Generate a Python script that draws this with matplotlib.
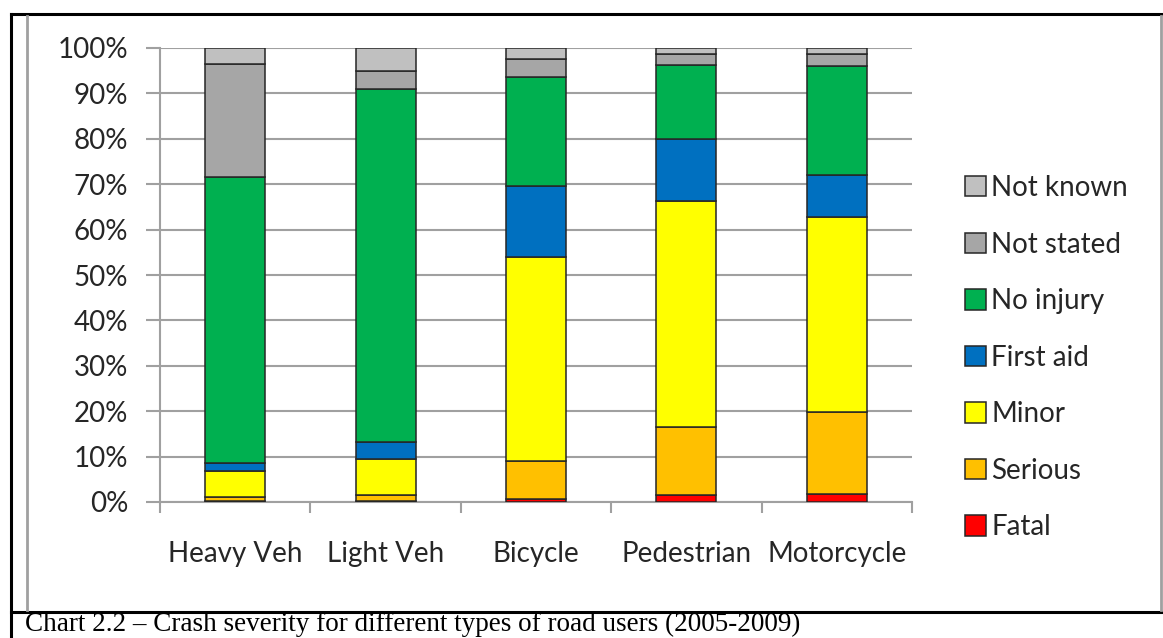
import numpy as np
import matplotlib.pyplot as plt
from matplotlib.patches import Patch
from matplotlib.lines import Line2D

categories = ["Heavy Veh", "Light Veh", "Bicycle", "Pedestrian", "Motorcycle"]
severity = ["Fatal", "Serious", "Minor", "First aid", "No injury", "Not stated", "Not known"]

# share of crashes (%) for each severity, per road user type
fatal      = [0.2, 0.3, 0.7, 1.5, 1.7]
serious    = [0.9, 1.2, 8.4, 15.0, 18.2]
minor      = [5.7, 7.9, 44.9, 49.9, 42.9]
first_aid  = [1.7, 3.8, 15.5, 13.5, 9.3]
no_injury  = [63.0, 77.7, 24.1, 16.4, 23.9]
not_stated = [24.9, 4.0, 4.0, 2.3, 2.6]
not_known  = [3.6, 5.1, 2.4, 1.4, 1.4]

series = [fatal, serious, minor, first_aid, no_injury, not_stated, not_known]
colors = ["#FF0000", "#FFC000", "#FFFF00", "#0070C0", "#00B050", "#A6A6A6", "#C0C0C0"]

W, H = 1163, 638
fig = plt.figure(figsize=(W / 100, H / 100), dpi=100)
plt.rcParams['font.family'] = ['Lato', 'DejaVu Sans']

# page frame around the chart and the caption row
fig.lines.append(Line2D([11 / W, 11 / W], [0, 1 - 14 / H], transform=fig.transFigure, color='black', lw=2.2))
fig.lines.append(Line2D([11 / W, 1], [1 - 14 / H, 1 - 14 / H], transform=fig.transFigure, color='black', lw=2.2))
fig.lines.append(Line2D([11 / W, 1], [1 - 612 / H, 1 - 612 / H], transform=fig.transFigure, color='black', lw=2.2))
# chart area border
fig.lines.append(Line2D([27 / W, 27 / W], [1 - 610 / H, 1 - 16 / H], transform=fig.transFigure, color='#A0A0A0', lw=2))
fig.lines.append(Line2D([1161 / W, 1161 / W], [1 - 610 / H, 1 - 16 / H], transform=fig.transFigure, color='#A0A0A0', lw=2))

ax = fig.add_axes([160 / W, 1 - 502 / H, (912 - 160) / W, (502 - 48) / H])

x = np.arange(len(categories))
bottom = np.zeros(len(categories))
handles = []
for name, vals, col in zip(severity, series, colors):
    ax.bar(x, vals, 0.4, bottom=bottom, color=col, edgecolor='#262626', linewidth=1.1, zorder=3)
    bottom += np.array(vals)
    handles.append(Patch(facecolor=col, edgecolor='#262626', linewidth=1.1, label=name))

ax.set_xlim(-0.5, len(categories) - 0.5)
ax.set_ylim(0, 100)
ax.set_yticks(np.arange(0, 101, 10))
ax.set_yticklabels([f"{v}%" for v in range(0, 101, 10)])
ax.set_xticks(x)
ax.set_xticklabels(categories)
ax.set_xticks(np.arange(-0.5, len(categories)), minor=True)
ax.tick_params(axis='x', which='major', length=0, pad=28, labelsize=20, labelcolor='#262626')
ax.tick_params(axis='x', which='minor', length=8, width=1.5, color='#A0A0A0')
ax.tick_params(axis='y', length=10, width=1.5, color='#A0A0A0', pad=13, labelsize=20, labelcolor='#262626')
ax.grid(axis='y', color='#A0A0A0', linewidth=1.5, zorder=0)
for s in ['top', 'right']:
    ax.spines[s].set_visible(False)
for s in ['left', 'bottom']:
    ax.spines[s].set_color('#A0A0A0')
    ax.spines[s].set_linewidth(1.5)

leg = fig.legend(handles=handles[::-1], loc='upper left', bbox_to_anchor=(940 / W, 1 - 150 / H),
                 frameon=False, fontsize=20, handlelength=0.75, handleheight=0.75,
                 handletextpad=0.2, labelspacing=1.1, labelcolor='#262626')

fig.text(25 / W, 1 - 637 / H, "Chart 2.2 \u2013 Crash severity for different types of road users (2005-2009)",
         family='Liberation Serif', fontsize=19.5, va='bottom', ha='left', color='black')

fig.savefig("out.png", dpi=100)
